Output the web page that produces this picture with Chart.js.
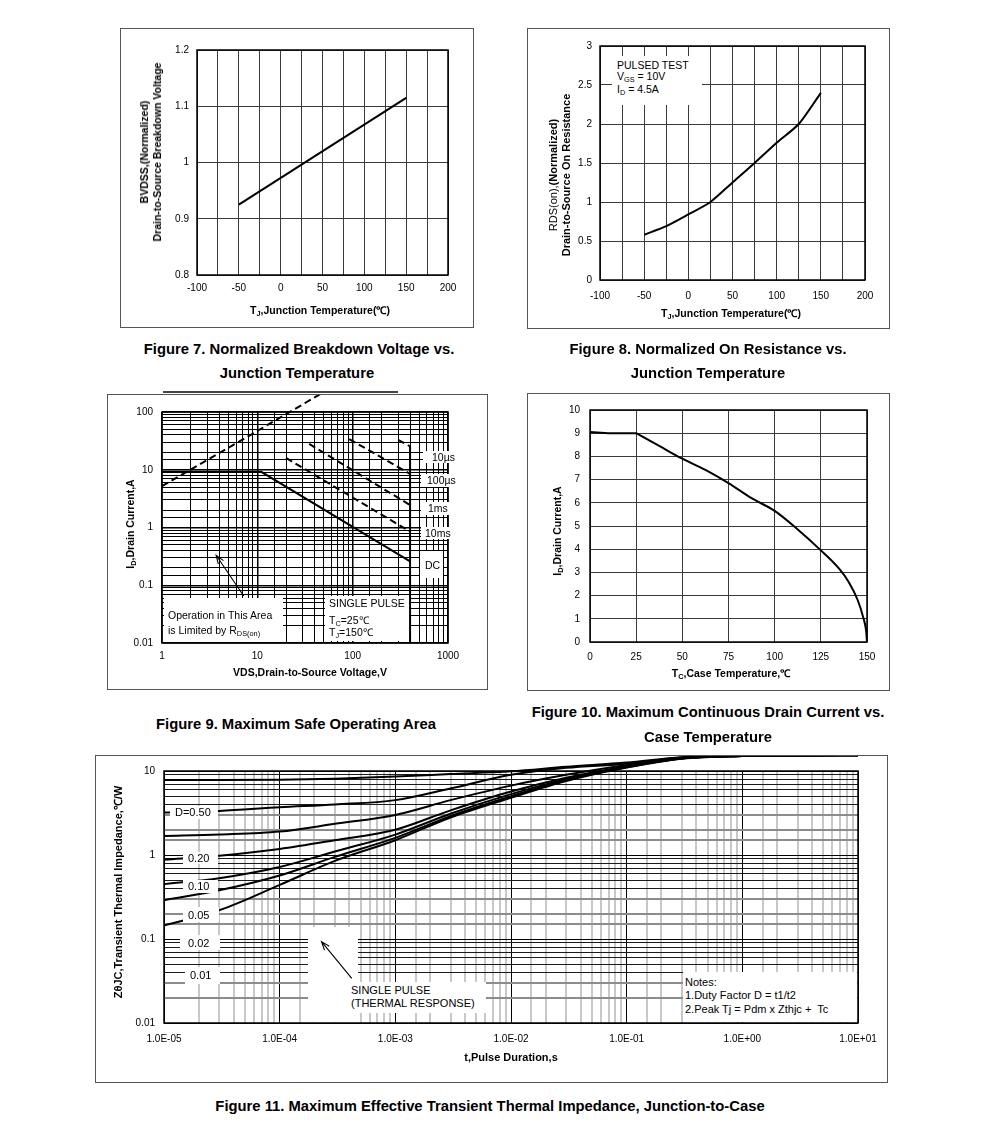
<!DOCTYPE html>
<html>
<head>
<meta charset="utf-8">
<script src="https://cdn.jsdelivr.net/npm/chart.js@4.4.1/dist/chart.umd.min.js"></script>
<style>
body { margin: 0; background: #fff; font-family: 'Liberation Sans', Arial, sans-serif; color: #000; }
#page { position: relative; width: 991px; height: 1127px; overflow: hidden; }
canvas { position: absolute; }
.cap { position: absolute; font-weight: bold; font-size: 14.8px; line-height: 16px; transform: translateX(-50%); white-space: nowrap; }
.xt { position: absolute; font-weight: bold; font-size: 10.5px; line-height: 12px; transform: translate(-50%, -50%); white-space: nowrap; }
.yt { position: absolute; font-weight: bold; font-size: 10.5px; line-height: 13px; transform: translate(-50%, -50%) rotate(-90deg); white-space: nowrap; text-align: center; }
.n { position: absolute; white-space: nowrap; font-size: 10.5px; line-height: 12px; }
.bx { position: absolute; background: #fff; }
sub { font-size: 70%; vertical-align: -2px; line-height: 0; }
</style>
</head>
<body>
<div id="page">
  <canvas id="c7"></canvas>
  <canvas id="c8"></canvas>
  <canvas id="c9"></canvas>
  <canvas id="c10"></canvas>
  <canvas id="c11"></canvas>

  <!-- fig 8 legend -->
  <div class="bx" style="left:612px;top:56px;width:90px;height:49px"></div>
  <div class="n" style="left:617px;top:59px">PULSED TEST</div>
  <div class="n" style="left:617px;top:70px">V<sub>GS</sub> = 10V</div>
  <div class="n" style="left:617px;top:83px">I<sub>D</sub> = 4.5A</div>

  <!-- fig 9 annotations -->
  <div style="position:absolute;left:163px;top:391px;width:235px;height:2px;background:#444"></div>
  <div class="bx" style="left:423px;top:451px;width:33px;height:12px"></div>
  <div class="n" style="left:432px;top:451px">10µs</div>
  <div class="bx" style="left:421px;top:474px;width:35px;height:13px"></div>
  <div class="n" style="left:427px;top:474px">100µs</div>
  <div class="bx" style="left:421px;top:502px;width:35px;height:13px"></div>
  <div class="n" style="left:428px;top:502px">1ms</div>
  <div class="bx" style="left:421px;top:527px;width:35px;height:12px"></div>
  <div class="n" style="left:425px;top:527px">10ms</div>
  <div class="bx" style="left:420px;top:551px;width:23px;height:27px"></div>
  <div class="n" style="left:425px;top:559px">DC</div>
  <div class="bx" style="left:325px;top:596px;width:84px;height:45px"></div>
  <div class="n" style="left:329px;top:597px">SINGLE PULSE</div>
  <div class="n" style="left:329px;top:614px">T<sub>C</sub>=25℃</div>
  <div class="n" style="left:329px;top:626px">T<sub>J</sub>=150℃</div>
  <div class="bx" style="left:164px;top:598px;width:119px;height:44px"></div>
  <div class="n" style="left:168px;top:609px">Operation in This Area</div>
  <div class="n" style="left:168px;top:624px">is Limited by R<sub>DS(on)</sub></div>

  <!-- fig 11 annotations -->
  <div class="bx" style="left:170px;top:806px;width:48px;height:13px"></div>
  <div class="n" style="left:175px;top:806px;font-size:11px">D=0.50</div>
  <div class="bx" style="left:183px;top:852px;width:35px;height:12px"></div>
  <div class="n" style="left:188px;top:852px;font-size:11px">0.20</div>
  <div class="bx" style="left:183px;top:880px;width:35px;height:13px"></div>
  <div class="n" style="left:188px;top:880px;font-size:11px">0.10</div>
  <div class="bx" style="left:183px;top:907px;width:36px;height:15px"></div>
  <div class="n" style="left:188px;top:909px;font-size:11px">0.05</div>
  <div class="bx" style="left:180px;top:935px;width:40px;height:15px"></div>
  <div class="n" style="left:188px;top:937px;font-size:11px">0.02</div>
  <div class="bx" style="left:185px;top:967px;width:35px;height:17px"></div>
  <div class="n" style="left:190px;top:969px;font-size:11px">0.01</div>
  <div class="bx" style="left:350px;top:982px;width:136px;height:31px"></div>
  <div class="n" style="left:351px;top:984px;font-size:11px">SINGLE PULSE</div>
  <div class="n" style="left:351px;top:997px;font-size:11px">(THERMAL RESPONSE)</div>
  <div class="bx" style="left:683px;top:972px;width:174px;height:50px"></div>
  <div class="n" style="left:685px;top:976px;font-size:11px">Notes:</div>
  <div class="n" style="left:685px;top:989px;font-size:11px">1.Duty Factor D = t1/t2</div>
  <div class="n" style="left:685px;top:1003px;font-size:11px">2.Peak Tj = Pdm x Zthjc +&nbsp; Tc</div>

  <!-- axis titles -->
  <div class="xt" style="left:320px;top:310px">T<sub>J</sub>,Junction Temperature(℃)</div>
  <div class="yt" style="left:151px;top:152px">BVDSS,(Normalized)<br>Drain-to-Source Breakdown Voltage</div>
  <div class="xt" style="left:731px;top:313px">T<sub>J</sub>,Junction Temperature(℃)</div>
  <div class="yt" style="left:560px;top:175px;font-size:11px"><span style="font-weight:normal">RDS(on),</span>(Normalized)<br>Drain-to-Source On Resistance</div>
  <div class="xt" style="left:310px;top:672px">VDS,Drain-to-Source Voltage,V</div>
  <div class="yt" style="left:130px;top:524px">I<sub>D</sub>,Drain Current,A</div>
  <div class="xt" style="left:731px;top:673px">T<sub>C</sub>,Case Temperature,℃</div>
  <div class="yt" style="left:557px;top:531px">I<sub>D</sub>,Drain Current,A</div>
  <div class="xt" style="left:511px;top:1057px;font-size:11px">t,Pulse Duration,s</div>
  <div class="yt" style="left:118px;top:892px;font-size:11px">ZθJC,Transient Thermal Impedance,℃/W</div>

  <!-- captions -->
  <div class="cap" style="left:299px;top:341px">Figure 7. Normalized Breakdown Voltage vs.</div>
  <div class="cap" style="left:297px;top:365px">Junction Temperature</div>
  <div class="cap" style="left:708px;top:341px">Figure 8. Normalized On Resistance vs.</div>
  <div class="cap" style="left:708px;top:365px">Junction Temperature</div>
  <div class="cap" style="left:296px;top:716px">Figure 9. Maximum Safe Operating Area</div>
  <div class="cap" style="left:708px;top:704px">Figure 10. Maximum Continuous Drain Current vs.</div>
  <div class="cap" style="left:708px;top:729px">Case Temperature</div>
  <div class="cap" style="left:490px;top:1098px">Figure 11. Maximum Effective Transient Thermal Impedance, Junction-to-Case</div>
</div>

<script>
// Figure 7 - breakdown voltage vs Tj
const bvTemp = [-50, 150];
const bvNorm = [0.925, 1.115];

// Figure 8 - on resistance vs Tj
const rdsTemp = [-50, -25, 0, 25, 50, 75, 100, 125, 150];
const rdsNorm = [0.58, 0.69, 0.84, 1.0, 1.25, 1.5, 1.76, 2.0, 2.4];

// Figure 9 - safe operating area (V, A)
const soaRdsV = [1, 10, 46];
const soaRdsI = [5.2, 47, 205];
const soaDcV = [1, 11, 400];
const soaDcI = [9.2, 9.2, 0.26];
const soaVmaxV = [400, 400];
const soaVmaxI = [0.01, 26];
const soa10msV = [20, 400];
const soa10msI = [16, 0.85];
const soa1msV = [35, 400];
const soa1msI = [28, 2.45];
const soa100usV = [92, 400];
const soa100usI = [34, 8.5];
const soa10usV = [300, 400];
const soa10usI = [33, 25.5];
const soaArrow = [[7.2, 0.065], [3.7, 0.33]];

// Figure 10 - drain current vs case temp (flat part, then derating curve from 25)
const idFlatTemp = [0, 10, 25];
const idFlatCur = [9.05, 9.0, 9.0];
const idTemp = [25, 37.5, 50, 62.5, 75, 87.5, 100, 112.5, 125, 135, 140, 145, 148, 149.5, 150];
const idCur = [9.0, 8.45, 7.9, 7.42, 6.85, 6.2, 5.65, 4.85, 3.95, 3.15, 2.6, 1.8, 1.05, 0.5, 0];

// Figure 11 - transient thermal impedance
const pulseT = [1e-5, 3e-5, 1e-4, 3e-4, 1e-3, 3e-3, 1e-2, 3e-2, 1e-1, 3e-1, 1, 3, 10];
const zth050 = [7.8, 7.8, 7.85, 8.1, 8.6, 9.2, 9.9, 11.2, 12.6, 14.6, 15.1, 15.3, 15.4];
const zth020 = [3.2, 3.35, 3.7, 4.0, 4.5, 6.2, 9.0, 10.9, 12.2, 14.5, 15.1, 15.3, 15.4];
const zth010 = [1.68, 1.75, 1.9, 2.35, 3.0, 4.5, 6.7, 9.0, 11.8, 14.3, 15.1, 15.3, 15.4];
const zth005 = [0.88, 0.98, 1.18, 1.5, 2.0, 3.4, 5.7, 8.3, 11.4, 14.2, 15.1, 15.3, 15.4];
const zth002 = [0.45, 0.53, 0.72, 1.1, 1.75, 3.1, 5.3, 8.0, 11.2, 14.1, 15.1, 15.3, 15.4];
const zth001 = [0.29, 0.38, 0.57, 0.95, 1.6, 2.9, 5.0, 7.8, 11.1, 14.1, 15.1, 15.3, 15.4];
const zthSingle = [0.145, 0.22, 0.44, 0.85, 1.5, 2.8, 4.8, 7.6, 11.0, 14.0, 15.1, 15.3, 15.4];
const zthArrow = [[4.2e-4, 0.034], [2.3e-4, 0.093]];

Chart.defaults.font.family = "'Liberation Sans', Arial, sans-serif";
Chart.defaults.color = '#000';

const isPow10 = v => Math.abs(Math.log10(v) - Math.round(Math.log10(v))) < 1e-6;
const sig = v => Math.round(v / Math.pow(10, Math.floor(Math.log10(v) + 1e-9)));
const pts = (xs, ys) => xs.map((x, i) => ({ x, y: ys[i] }));

function drawArrow(ctx, x1, y1, x2, y2) {
  const a = Math.atan2(y2 - y1, x2 - x1);
  ctx.beginPath();
  ctx.moveTo(x1, y1);
  ctx.lineTo(x2, y2);
  ctx.moveTo(x2 - 9 * Math.cos(a - 0.35), y2 - 9 * Math.sin(a - 0.35));
  ctx.lineTo(x2, y2);
  ctx.lineTo(x2 - 9 * Math.cos(a + 0.35), y2 - 9 * Math.sin(a + 0.35));
  ctx.stroke();
}

// plot frame, outer box, white-outs and arrows
const framePlugin = {
  id: 'frame',
  afterDatasetsDraw(chart, args, o) {
    const { ctx, chartArea: a, scales } = chart;
    ctx.save();
    ctx.fillStyle = '#fff';
    (o.whiteouts || []).forEach(r => {
      ctx.fillRect(r[0] - chart.canvas.offsetLeft, r[1] - chart.canvas.offsetTop, r[2], r[3]);
    });
    ctx.strokeStyle = '#000';
    ctx.lineWidth = 1.5;
    ctx.strokeRect(a.left, a.top, a.right - a.left, a.bottom - a.top);
    ctx.lineWidth = 1.1;
    (o.arrows || []).forEach(ar => {
      drawArrow(ctx,
        scales.x.getPixelForValue(ar[0][0]), scales.y.getPixelForValue(ar[0][1]),
        scales.x.getPixelForValue(ar[1][0]), scales.y.getPixelForValue(ar[1][1]));
    });
    ctx.strokeStyle = '#555';
    ctx.lineWidth = 1;
    ctx.strokeRect(0.5, 0.5, chart.width - 1, chart.height - 1);
    ctx.restore();
  }
};

function build(id, box, plot, cfg) {
  const cv = document.getElementById(id);
  cv.style.left = box[0] + 'px';
  cv.style.top = box[1] + 'px';
  cv.width = box[2];
  cv.height = box[3];
  const yW = plot[0] - box[0];
  const xH = box[1] + box[3] - (plot[1] + plot[3]);
  const o = cfg.options;
  o.responsive = false;
  o.animation = false;
  o.layout = { padding: { top: plot[1] - box[1], right: box[0] + box[2] - (plot[0] + plot[2]), left: 0, bottom: 0 } };
  o.scales.x.afterFit = s => { s.height = xH; };
  o.scales.y.afterFit = s => { s.width = yW; };
  o.plugins = Object.assign({ legend: { display: false }, tooltip: { enabled: false } }, o.plugins || {});
  cfg.plugins = [framePlugin];
  return new Chart(cv, cfg);
}

function line(data, extra) {
  return Object.assign({ data, borderColor: '#000', borderWidth: 2, pointRadius: 0, fill: false, tension: 0 }, extra || {});
}

function linAxis(min, max, step, pad, labelEvery) {
  return {
    type: 'linear', min, max,
    grid: { color: '#3a3a3a', lineWidth: 1, drawTicks: false },
    border: { display: false },
    ticks: {
      stepSize: step, autoSkip: false, maxRotation: 0, padding: pad, font: { size: 10 },
      callback: v => {
        if (labelEvery && Math.abs(v % labelEvery) > 1e-9) return '';
        return String(+v.toFixed(2));
      }
    }
  };
}

// Figure 7
build('c7', [120, 28, 354, 300], [197, 50, 251, 225], {
  type: 'line',
  data: { datasets: [line(pts(bvTemp, bvNorm))] },
  options: { scales: { x: linAxis(-100, 200, 25, 7, 50), y: linAxis(0.8, 1.2, 0.1, 8) } }
});

// Figure 8
build('c8', [527, 28, 363, 301], [600, 46, 265, 234], {
  type: 'line',
  data: { datasets: [line(pts(rdsTemp, rdsNorm), { tension: 0.25 })] },
  options: { scales: { x: linAxis(-100, 200, 25, 10, 50), y: linAxis(0, 3, 0.5, 8) } }
});

// Figure 9
function soaAxis(min, max, pad) {
  return {
    type: 'logarithmic', min, max,
    grid: { color: '#000', lineWidth: c => (c.tick && isPow10(c.tick.value) ? 1.5 : 1), drawTicks: false },
    border: { display: false },
    ticks: { autoSkip: false, maxRotation: 0, padding: pad, font: { size: 10 },
      callback: v => (isPow10(v) ? String(Number(v.toPrecision(3))) : '') }
  };
}
const dash = { borderDash: [7, 4] };
build('c9', [107, 394, 381, 296], [162, 412, 286, 231], {
  type: 'line',
  data: { datasets: [
    line(pts(soaRdsV, soaRdsI), { borderDash: [7, 4], clip: false }),
    line(pts(soaDcV, soaDcI)),
    line(pts(soaVmaxV, soaVmaxI)),
    line(pts(soa10msV, soa10msI), dash),
    line(pts(soa1msV, soa1msI), dash),
    line(pts(soa100usV, soa100usI), dash),
    line(pts(soa10usV, soa10usI), dash)
  ] },
  options: {
    scales: { x: soaAxis(1, 1000, 7), y: soaAxis(0.01, 100, 9) },
    plugins: { frame: { arrows: [soaArrow] } }
  }
});

// Figure 10
build('c10', [527, 393, 363, 298], [590, 410, 277, 232], {
  type: 'line',
  data: { datasets: [
    line(pts(idFlatTemp, idFlatCur)),
    line(pts(idTemp, idCur), { cubicInterpolationMode: 'monotone' })
  ] },
  options: { scales: { x: linAxis(0, 150, 25, 9), y: linAxis(0, 10, 1, 10) } }
});

// Figure 11
const fmtE = v => {
  const e = Math.round(Math.log10(v));
  return '1.0E' + (e < 0 ? '-' : '+') + String(Math.abs(e)).padStart(2, '0');
};
const curve = ys => line(pts(pulseT, ys), { clip: false, cubicInterpolationMode: 'monotone', borderWidth: 2 });
build('c11', [95, 755, 793, 328], [164, 771, 694, 252], {
  type: 'line',
  data: { datasets: [zth050, zth020, zth010, zth005, zth002, zth001, zthSingle].map(curve) },
  options: {
    scales: {
      x: {
        type: 'logarithmic', min: 1e-5, max: 10,
        grid: {
          color: c => (c.tick && isPow10(c.tick.value) ? '#000' : '#c8c8c8'),
          lineWidth: c => (c.tick && isPow10(c.tick.value) ? 1 : 2),
          drawTicks: false
        },
        border: { display: false },
        ticks: { autoSkip: false, maxRotation: 0, padding: 10, font: { size: 10 },
          callback: v => (isPow10(v) ? fmtE(v) : '') }
      },
      y: {
        type: 'logarithmic', min: 0.01, max: 10,
        grid: {
          color: c => {
            if (!c.tick) return '#000';
            const v = c.tick.value;
            if (isPow10(v)) return '#000';
            return sig(v) <= 3 ? '#8c8c8c' : '#1a1a1a';
          },
          lineWidth: c => (c.tick && !isPow10(c.tick.value) && sig(c.tick.value) <= 3 ? 2 : 1),
          drawTicks: false
        },
        border: { display: false },
        ticks: { autoSkip: false, padding: 9, font: { size: 10 },
          callback: v => (isPow10(v) ? String(Number(v.toPrecision(3))) : '') }
      }
    },
    plugins: { frame: { arrows: [zthArrow], whiteouts: [[308, 927, 50, 95]] } }
  }
});
</script>
</body>
</html>
